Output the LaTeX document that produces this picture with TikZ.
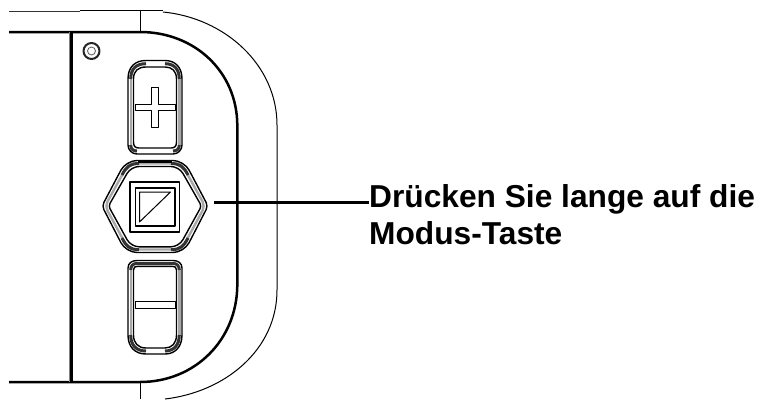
\documentclass[tikz,border=0pt]{standalone}
\usepackage{fontspec}
\setmainfont{Liberation Sans}
\tikzset{
  heavy/.style={line width=2.5pt,black},
  medium/.style={line width=1.4pt,black},
  fine/.style={line width=1pt,black},
  greyband/.style={line width=2.4pt,black!35},
  darkband/.style={line width=3pt,black!80},
  labeltext/.style={font=\bfseries\fontsize{31.7}{37.5}\selectfont,align=left,anchor=north west,inner sep=0pt,text=black}
}
\begin{document}
\begin{tikzpicture}[x=1pt,y=-1pt,line join=round]
\useasboundingbox (0,0) rectangle (762,399);
% body
\draw[line width=0.9pt,black!80] (9,11) -- (80,11);
\draw[line width=1.3pt] (80,10.5) -- (163,10.5);
\draw[fine] (163,12) .. controls (225,18) and (277,65) .. (277,125) -- (277,290) .. controls (277,350) and (225,392) .. (165,399);
\draw[fine] (140,11) -- (140,32);
\draw[fine] (140,382) -- (140,399);
\draw[heavy] (9,32) -- (140,32) .. controls (195,32) and (237,72) .. (237.3,125) -- (237.3,285) .. controls (237,340) and (195,382) .. (140,382) -- (9,382);
\draw[heavy] (71.5,32) -- (71.5,382);
\draw[line width=0.9pt,black!50] (69.6,32) -- (69.6,382);
% screw
\draw[line width=2pt,black!85] (91.5,51) circle (8);
\draw[line width=0.8pt,black!65] (91.5,51) circle (4);
% plus button
\draw[greyband] (130.7,79) -- (130.7,145);
\draw[greyband] (179.3,79) -- (179.3,145);
\draw[medium] (128,79) .. controls (128,67) and (135,60.5) .. (146,60.5) -- (165,60.5) .. controls (175,60.5) and (182,67) .. (182,79) -- (182,145) .. controls (182,150) and (178,154) .. (173,154) -- (137,154) .. controls (132,154) and (128,150) .. (128,145) -- cycle;
\draw[medium] (133.5,79) .. controls (133.5,71) and (138,67) .. (146,67) -- (165,67) .. controls (172,67) and (176.5,71) .. (176.5,79) -- (176.5,142) .. controls (176.5,146) and (175,148) .. (171,148) -- (139,148) .. controls (135,148) and (133.5,146) .. (133.5,142) -- cycle;
\draw[darkband] (130.7,79) .. controls (130.7,69) and (136,63.7) .. (146,63.7);
\draw[darkband] (179.3,79) .. controls (179.3,69) and (174,63.7) .. (165,63.7);
\draw[darkband] (130.7,145) .. controls (130.7,149) and (133,151) .. (137,151);
\draw[darkband] (179.3,145) .. controls (179.3,149) and (177,151) .. (173,151);
\draw[fine] (135,104) -- (151,104) -- (151,87) -- (158.5,87) -- (158.5,104) -- (175.5,104) -- (175.5,110) -- (158.5,110) -- (158.5,127.5) -- (151,127.5) -- (151,110) -- (135,110) -- cycle;
% hex button
\draw[greyband,rounded corners=5pt] (155,163.5) -- (181.5,163.5) -- (205,206) -- (181.5,249.5) -- (128.5,249.5) -- (105,206) -- (128.5,163.5) -- (155,163.5);
\draw[medium] (155,160.5) [rounded corners=11pt] -- (184,160.5) [rounded corners=4pt] -- (208,206) [rounded corners=11pt] -- (184,252.5) -- (126,252.5) [rounded corners=4pt] -- (102,206) [rounded corners=11pt] -- (126,160.5) -- (155,160.5);
\draw[medium] (155,166.5) [rounded corners=8pt] -- (179,166.5) [rounded corners=3pt] -- (201.5,206) [rounded corners=8pt] -- (179,246.8) -- (131,246.8) [rounded corners=3pt] -- (108.5,206) [rounded corners=8pt] -- (131,166.5) -- (155,166.5);
\draw[darkband] (139,163.5) .. controls (130,163.5) and (126,167) .. (122,175);
\draw[darkband] (171,163.5) .. controls (180,163.5) and (184,167) .. (188,175);
\draw[darkband] (139,249.7) .. controls (130,249.7) and (126,246) .. (122,238);
\draw[darkband] (171,249.7) .. controls (180,249.7) and (184,246) .. (188,238);
\draw[line width=2.6pt] (138,161.5) -- (172,161.5);
% mode symbol
\draw[line width=1.2pt] (130,182) rectangle (179.5,232);
\draw[line width=1.4pt] (135.5,188) rectangle (175,226);
\draw[fine] (139.5,192) -- (170.5,192) -- (139.5,222) -- cycle;
% minus button
\draw[greyband] (130.7,269) -- (130.7,335);
\draw[greyband] (179.3,269) -- (179.3,335);
\draw[medium] (128,268) .. controls (128,263) and (132,260.5) .. (137,260.5) -- (173,260.5) .. controls (178,260.5) and (182,263) .. (182,268) -- (182,335) .. controls (182,347) and (175,354) .. (165,354) -- (146,354) .. controls (135,354) and (128,347) .. (128,335) -- cycle;
\draw[medium] (133.5,270) .. controls (133.5,267) and (135,266.3) .. (138,266.3) -- (172,266.3) .. controls (175,266.3) and (176.5,267) .. (176.5,270) -- (176.5,335) .. controls (176.5,343) and (172,348) .. (165,348) -- (146,348) .. controls (138,348) and (133.5,343) .. (133.5,335) -- cycle;
\draw[darkband] (135,263.4) -- (175,263.4);
\draw[darkband] (130.7,335) .. controls (130.7,345) and (136,351) .. (146,351);
\draw[darkband] (179.3,335) .. controls (179.3,345) and (174,351) .. (165,351);
\draw[darkband] (130.7,270) .. controls (130.7,266) and (133,263.4) .. (137,263.4);
\draw[darkband] (179.3,270) .. controls (179.3,266) and (177,263.4) .. (173,263.4);
\draw[fine] (135,301.5) rectangle (175.5,308);
% label and leader
\node[labeltext] (modelabel) at (369,184) {Drücken Sie lange auf die\\Modus-Taste};
\coordinate (leaderstart) at (214,202);
\coordinate (leaderend) at (modelabel.west |- leaderstart);
\draw[line width=3pt] (leaderstart) -- (leaderend);
\end{tikzpicture}
\end{document}
